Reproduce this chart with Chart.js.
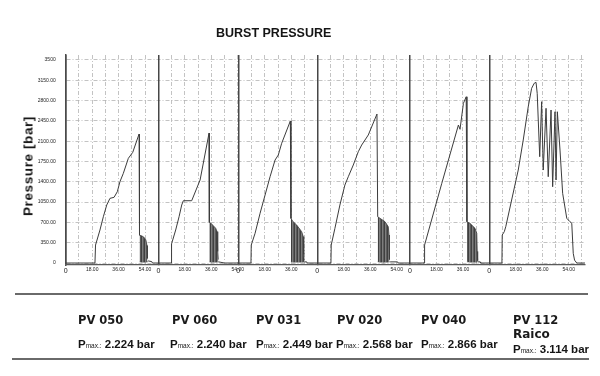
<!DOCTYPE html>
<html>
<head>
<meta charset="utf-8">
<script src="https://cdn.jsdelivr.net/npm/chart.js@4/dist/chart.umd.min.js"></script>
<style>
html,body{margin:0;padding:0;background:#fff;}
#wrap{position:relative;width:600px;height:376px;overflow:hidden;background:#fff;}
#c{position:absolute;left:0;top:0;}
.t{position:absolute;white-space:nowrap;line-height:1;color:#151515;}
.title{font:bold 12.5px "Liberation Sans",Arial,sans-serif;}
.ytitle{font:bold 13.5px "Liberation Sans",Arial,sans-serif;letter-spacing:0.6px;transform:translate(-50%,-50%) rotate(-90deg);}
.pv{font:bold 11.5px "DejaVu Sans",sans-serif;color:#1a1a1a;}
.raico{font:bold 12px "DejaVu Sans",sans-serif;color:#1a1a1a;}
.pm{font:bold 11.5px "Liberation Sans",Arial,sans-serif;}
.pm .s{font:normal 6.5px "Liberation Sans",Arial,sans-serif;}
.hl{position:absolute;height:2px;background:#6a6a6a;}
</style>
</head>
<body>
<div id="wrap">
<canvas id="c" width="600" height="376" style="width:600px;height:376px"></canvas>
</div>
<script>
// ---------- data ----------
const chartTitle = 'BURST PRESSURE';
const yAxisTitle = 'Pressure [bar]';
const panelNames = ['PV 050', 'PV 060', 'PV 031', 'PV 020', 'PV 040', 'PV 112'];
const panelMakers = ['', '', '', '', '', 'Raico'];
const pmaxLabels = ['2.224', '2.240', '2.449', '2.568', '2.866', '3.114'];
const timeRange = [63.0, 54.4, 53.7, 63.1, 53.9, 65.1];
const xGridValues = [0, 9, 18, 27, 36, 45, 54, 63];
const xTickValues = [0, 18, 36, 54];
const xTickLabels = ['0', '18.00', '36.00', '54.00'];
const yTickValues = [0, 350, 700, 1050, 1400, 1750, 2100, 2450, 2800, 3150, 3500];
const yTickLabels = ['0', '350.00', '700.00', '1050.00', '1400.00', '1750.00', '2100.00', '2450.00', '2800.00', '3150.00', '3500'];

// PV 050
const pv050_t = [0, 19.9, 20.3, 23.3, 25.6, 27.9, 30.1, 32.9, 35.1, 36.9, 39.2, 42.6, 45.6, 49.9, 50.2];
const pv050_p = [0, 0, 310, 569, 798, 1000, 1115, 1133, 1229, 1402, 1546, 1805, 1908, 2224, 480];
const pv050_oscT = [50.2, 51.5, 53.0, 54.5, 55.3, 55.6];
const pv050_oscHi = [480, 470, 450, 400, 300, 80];
const pv050_oscLo = [20, 15, 15, 15, 20, 20];
const pv050_tailT = [55.6, 56.2, 58.5, 59.0, 63.0];
const pv050_tailP = [20, 35, 25, 0, 0];

// PV 060
const pv060_t = [0, 8.8, 9.0, 11.8, 14.1, 15.9, 17.0, 22.7, 28.4, 34.5, 34.7];
const pv060_p = [0, 0, 330, 569, 798, 1000, 1074, 1074, 1431, 2240, 700];
const pv060_oscT = [34.7, 36.0, 37.5, 39.0, 40.0, 40.4, 40.8];
const pv060_oscHi = [700, 680, 640, 600, 540, 200, 60];
const pv060_oscLo = [20, 15, 15, 15, 15, 20, 20];
const pv060_tailT = [40.8, 42.0, 45.0, 54.4];
const pv060_tailP = [20, 15, 0, 0];

// PV 031
const pv031_t = [0, 8.6, 8.8, 11.4, 14.8, 18.2, 21.6, 25.0, 27.2, 29.5, 35.4, 35.8];
const pv031_p = [0, 0, 310, 512, 857, 1172, 1488, 1776, 1862, 2064, 2449, 770];
const pv031_oscT = [35.8, 37.0, 39.7, 43.1, 44.2, 44.5, 44.8];
const pv031_oscHi = [770, 720, 655, 540, 453, 150, 40];
const pv031_oscLo = [20, 15, 15, 15, 15, 20, 20];
const pv031_tailT = [44.8, 46.5, 46.8, 53.7];
const pv031_tailP = [20, 20, 0, 0];

// PV 020
const pv020_t = [0, 9.3, 9.5, 12.0, 15.4, 18.8, 21.1, 24.5, 27.9, 30.2, 34.7, 40.6, 41.1];
const pv020_p = [0, 0, 310, 598, 1000, 1345, 1488, 1690, 1919, 2034, 2207, 2568, 798];
const pv020_oscT = [41.1, 42.7, 46.1, 48.3, 48.8, 49.1];
const pv020_oscHi = [798, 770, 712, 626, 483, 60];
const pv020_oscLo = [20, 15, 15, 15, 20, 20];
const pv020_tailT = [49.1, 50.0, 54.6, 55.0, 63.1];
const pv020_tailP = [20, 20, 20, 0, 0];

// PV 040
const pv040_t = [0, 9.7, 9.9, 21.6, 32.9, 34.0, 36.3, 38.2, 38.7];
const pv040_p = [0, 0, 310, 1374, 2379, 2305, 2753, 2866, 712];
const pv040_oscT = [38.7, 40.8, 44.2, 45.4, 45.7, 46.0];
const pv040_oscHi = [712, 684, 598, 512, 200, 40];
const pv040_oscLo = [20, 15, 15, 15, 20, 20];
const pv040_tailT = [46.0, 47.6, 48.0, 53.9];
const pv040_tailP = [20, 20, 0, 0];

// PV 112 Raico (oscillations drawn point by point)
const pv112_t = [0, 8.6, 8.8, 10.2, 11.2, 15.2, 19.7, 23.1, 26.5, 28.8, 30.6, 31.8, 32.6, 34.3, 35.6, 36.7, 38.6, 40.1, 42.0, 43.1, 44.7, 45.4, 46.3, 48.1, 49.9, 52.7, 54.9, 56.1, 57.1, 58.0, 59.5, 65.1];
const pv112_p = [0, 0, 483, 540, 626, 1086, 1603, 2121, 2695, 3012, 3100, 3114, 2925, 1833, 2781, 1603, 2667, 1488, 2638, 1315, 2608, 1431, 2608, 1948, 1202, 771, 712, 684, 167, 50, 0, 0];

// ---------- build ----------
const panels = [
  {main: [pv050_t, pv050_p], osc: [pv050_oscT, pv050_oscHi, pv050_oscLo], tail: [pv050_tailT, pv050_tailP]},
  {main: [pv060_t, pv060_p], osc: [pv060_oscT, pv060_oscHi, pv060_oscLo], tail: [pv060_tailT, pv060_tailP]},
  {main: [pv031_t, pv031_p], osc: [pv031_oscT, pv031_oscHi, pv031_oscLo], tail: [pv031_tailT, pv031_tailP]},
  {main: [pv020_t, pv020_p], osc: [pv020_oscT, pv020_oscHi, pv020_oscLo], tail: [pv020_tailT, pv020_tailP]},
  {main: [pv040_t, pv040_p], osc: [pv040_oscT, pv040_oscHi, pv040_oscLo], tail: [pv040_tailT, pv040_tailP]},
  {main: [pv112_t, pv112_p]}
];

function pts(ts, ps) { return ts.map((t, i) => ({x: t, y: ps[i]})); }

// striped pattern for the dense oscillation bands
const pc = document.createElement('canvas');
pc.width = 3; pc.height = 4;
const pg = pc.getContext('2d');
pg.fillStyle = '#7e7e7e'; pg.fillRect(0, 0, 3, 4);
pg.fillStyle = '#404040'; pg.fillRect(0, 0, 1, 4);
pg.fillStyle = '#5c5c5c'; pg.fillRect(2, 0, 1, 4);
const stripe = pg.createPattern(pc, 'repeat');

const lineCol = '#3c3c3c';
const datasets = [];
const scales = {
  y: {
    type: 'linear', position: 'left', min: -34, max: 3586,
    afterBuildTicks: ax => { ax.ticks = yTickValues.map(v => ({value: v})); },
    afterFit: ax => { ax.width = 65.7; },
    ticks: {
      autoSkip: false, padding: 10, color: '#222',
      font: {family: '"Liberation Sans", Arial, sans-serif', size: 5},
      callback: v => yTickLabels[yTickValues.indexOf(v)]
    },
    grid: {color: '#b4b4b4', lineWidth: 0.8, drawTicks: false},
    border: {display: true, color: '#4a4a4a', width: 1.5, dash: [4, 2, 1, 2]}
  }
};

panels.forEach((p, i) => {
  const xid = 'x' + i;
  scales[xid] = {
    type: 'linear', position: 'bottom', stack: 'panels', stackWeight: timeRange[i],
    min: 0, max: timeRange[i], offset: false,
    afterBuildTicks: ax => { ax.ticks = xGridValues.filter(v => v <= timeRange[i]).map(v => ({value: v})); },
    afterFit: ax => { ax.height = 12; },
    ticks: {
      autoSkip: false, maxRotation: 0, minRotation: 0, padding: 2, color: '#222',
      font: ctx => ({family: '"Liberation Sans", Arial, sans-serif', size: (ctx.tick && ctx.tick.value === 0) ? 7 : 5}),
      callback: v => { const k = xTickValues.indexOf(v); return k >= 0 ? xTickLabels[k] : ''; }
    },
    grid: {
      drawTicks: false,
      color: ctx => (ctx.tick && ctx.tick.value === 0) ? '#474747' : '#b4b4b4',
      lineWidth: ctx => (ctx.tick && ctx.tick.value === 0) ? 1.5 : 0.8
    },
    border: {
      display: true, color: '#5a5a5a', width: 1.2,
      dash: ctx => (ctx.tick && ctx.tick.value === 0) ? [] : [4, 2, 1, 2]
    }
  };
  datasets.push({data: pts(p.main[0], p.main[1]), xAxisID: xid, yAxisID: 'y',
    borderColor: lineCol, borderWidth: 1, pointRadius: 0, fill: false, tension: 0});
  if (p.osc) {
    datasets.push({data: pts(p.osc[0], p.osc[1]), xAxisID: xid, yAxisID: 'y',
      borderColor: lineCol, borderWidth: 0.8, pointRadius: 0, backgroundColor: stripe, fill: '+1', tension: 0});
    datasets.push({data: pts(p.osc[0], p.osc[2]), xAxisID: xid, yAxisID: 'y',
      borderColor: '#666', borderWidth: 0.6, pointRadius: 0, fill: false, tension: 0});
  }
  if (p.tail) {
    datasets.push({data: pts(p.tail[0], p.tail[1]), xAxisID: xid, yAxisID: 'y',
      borderColor: lineCol, borderWidth: 1, pointRadius: 0, fill: false, tension: 0});
  }
});

new Chart(document.getElementById('c'), {
  type: 'line',
  data: {datasets},
  options: {
    responsive: false, animation: false, devicePixelRatio: 1,
    parsing: true,
    layout: {padding: {top: 55, right: 15, bottom: 99, left: 0}},
    plugins: {legend: {display: false}, tooltip: {enabled: false}, title: {display: false}},
    scales
  }
});

// ---------- text ----------
const wrap = document.getElementById('wrap');
function addDiv(cls, html, left, top) {
  const d = document.createElement('div');
  d.className = 't ' + cls; d.innerHTML = html;
  d.style.left = left + 'px'; d.style.top = top + 'px';
  wrap.appendChild(d); return d;
}
addDiv('title', chartTitle, 216, 25.5);
addDiv('ytitle', yAxisTitle, 27.5, 166);

function hline(left, top, width) {
  const d = document.createElement('div');
  d.className = 'hl'; d.style.left = left + 'px'; d.style.top = top + 'px'; d.style.width = width + 'px';
  wrap.appendChild(d);
}
hline(15, 293, 573);
hline(12, 358, 577);

const nameX = [78, 172, 256, 337, 421, 513];
const pmX = [78, 170, 256, 336, 421, 513];
panelNames.forEach((n, i) => {
  addDiv('pv', n, nameX[i], 313);
  let pmTop = 337.8;
  if (panelMakers[i]) { addDiv('raico', panelMakers[i], nameX[i], 327.2); pmTop = 343; }
  addDiv('pm', 'P<span class="s">max.:</span> ' + pmaxLabels[i] + ' bar', pmX[i], pmTop);
});
</script>
</body>
</html>
